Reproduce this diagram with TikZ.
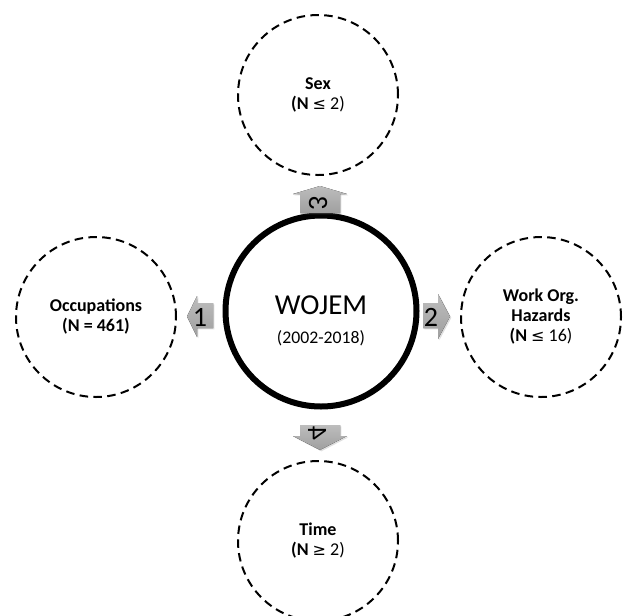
\documentclass[tikz,border=0pt]{standalone}
\usepackage{fontspec}
\setmainfont{Carlito}
\newfontfamily\symfont{DejaVu Sans}
\usetikzlibrary{shadows}

\begin{document}
\begin{tikzpicture}[x=0.75pt, y=-0.75pt,
    hub/.style={circle, draw, line width=4.5pt, minimum size=143.25pt, inner sep=0pt},
    topic/.style={circle, draw, line width=1.5pt, dash pattern=on 6.4pt off 4pt,
        minimum size=120pt, inner sep=0pt, align=center,
        font=\fontsize{13.5}{15}\selectfont},
    blk/.style={top color=gray!52, bottom color=gray!75, draw=none,
        drop shadow={opacity=0.25, shadow xshift=1pt, shadow yshift=-1pt}},
    num/.style={inner sep=0pt, font=\fontsize{21}{21}\selectfont},
    flip/.style={cm={0,1,1,0,(0,0)}}
]
    \useasboundingbox (0,0) rectangle (624,615);

    % centre and the four topics
    \node[hub] (wojem) at (321,311) {};
    \node[align=center, inner sep=0pt, font=\fontsize{13.3}{22}\selectfont]
        (wojemtxt) at ([yshift=-7.5pt]wojem.center)
        {{\fontsize{21.7}{22}\selectfont WOJEM}\\(2002-2018)};

    \node[topic] (occ) at (96,317) {\textbf{Occupations}\\\textbf{(N = 461)}};
    \node[topic] (work) at (541,317) {\textbf{Work Org.}\\\textbf{Hazards}\\\textbf{(N} {\symfont\fontsize{12}{15}\selectfont ≤} 16)};
    \node[topic] (sex) at (318,95) {\textbf{Sex}\\\textbf{(N} {\symfont\fontsize{12}{15}\selectfont ≤} 2)};
    \node[topic] (time) at (318,541) {\textbf{Time}\\\textbf{(N} {\symfont\fontsize{12}{15}\selectfont ≥} 2)};

    % block arrows
    \fill[blk] (213,303) -- (197,303) -- (197,296) -- (187,316.5) -- (197,337)
        -- (197,328) -- (213,328) -- cycle;
    \fill[blk] (423,303) -- (438,303) -- (438,294) -- (450,316.5) -- (438,339)
        -- (438,328) -- (423,328) -- cycle;
    \fill[blk] (300,213) -- (300,194) -- (293,194) -- (320,186) -- (347,194)
        -- (340,194) -- (340,213) -- cycle;
    \fill[blk] (300,425) -- (340,425) -- (340,436) -- (347,436) -- (320,450)
        -- (293,436) -- (300,436) -- cycle;

    \node[num] (n1) at (200,317) {1};
    \node[num] (n2) at (431,317) {2};
    \node[num, flip] (n3) at (318,203) {3};
    \node[num, flip] (n4) at (317,433) {4};
\end{tikzpicture}
\end{document}
